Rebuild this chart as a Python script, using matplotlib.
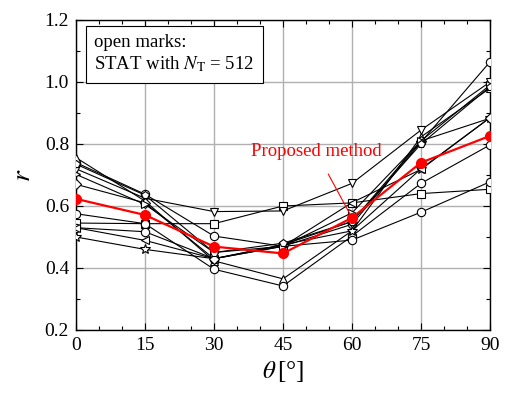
import matplotlib
matplotlib.use("Agg")
import matplotlib.pyplot as plt
from matplotlib.ticker import MultipleLocator

theta = [0, 15, 30, 45, 60, 75, 90]

stat_square   = [0.545, 0.543, 0.543, 0.600, 0.610, 0.640, 0.654]
stat_tridown  = [0.720, 0.625, 0.582, 0.584, 0.673, 0.845, 1.000]
stat_circle1  = [0.740, 0.638, 0.503, 0.470, 0.541, 0.806, 1.065]
stat_triup    = [0.756, 0.616, 0.423, 0.365, 0.520, 0.823, 0.980]
stat_circle2  = [0.575, 0.543, 0.396, 0.342, 0.503, 0.673, 0.797]
stat_circle3  = [0.530, 0.517, 0.430, 0.470, 0.490, 0.580, 0.678]
stat_star     = [0.500, 0.460, 0.430, 0.475, 0.520, 0.720, 0.885]
stat_trileft  = [0.530, 0.489, 0.430, 0.470, 0.611, 0.718, 0.885]
stat_diamond  = [0.670, 0.610, 0.430, 0.475, 0.550, 0.810, 0.883]
stat_triright = [0.702, 0.605, 0.450, 0.470, 0.578, 0.810, 0.990]
stat_pentagon = [0.735, 0.635, 0.450, 0.480, 0.550, 0.800, 0.985]
proposed      = [0.623, 0.571, 0.469, 0.447, 0.562, 0.740, 0.826]

series = [
    (stat_square, "s"), (stat_tridown, "v"), (stat_circle1, "o"),
    (stat_triup, "^"), (stat_circle2, "o"), (stat_circle3, "o"),
    (stat_star, "*"), (stat_trileft, "<"), (stat_diamond, "D"),
    (stat_triright, ">"), (stat_pentagon, "p"),
]

plt.rcParams['font.family'] = ['Liberation Serif', 'DejaVu Serif']
plt.rcParams['mathtext.fontset'] = 'stix'

fig = plt.figure(figsize=(5.08, 3.94), dpi=100)
ax = fig.add_axes([76/508, 1-330/394, 414/508, 310/394])

for vals, m in series:
    ms = 5.0 if m == "D" else (7.5 if m == "*" else 6.0)
    ax.plot(theta, vals, color="black", lw=0.8, marker=m, ms=ms,
            mfc="white", mec="black", mew=0.8, zorder=3)

ax.plot(theta, proposed, color="red", lw=1.6, marker="o", ms=7,
        mfc="red", mec="red", zorder=4)

ax.annotate("Proposed method", xy=(60, 0.562), xytext=(52.2, 0.775),
            color="red", fontsize=13.5, ha="center", va="center",
            arrowprops=dict(arrowstyle="-", color="red", lw=0.8,
                            shrinkA=9, shrinkB=3))

ax.text(4.0, 1.155, "open marks:\nSTAT with $N_\\mathrm{T}$ = 512",
        fontsize=13.5, ha="left", va="top", linespacing=1.25,
        bbox=dict(boxstyle="square,pad=0.45", fc="white", ec="black", lw=0.8),
        zorder=6)

ax.set_xlim(0, 90)
ax.set_ylim(0.2, 1.2)
ax.xaxis.set_major_locator(MultipleLocator(15))
ax.xaxis.set_minor_locator(MultipleLocator(5))
ax.yaxis.set_major_locator(MultipleLocator(0.2))
ax.yaxis.set_minor_locator(MultipleLocator(0.1))
ax.set_yticks([0.2, 0.4, 0.6, 0.8, 1.0, 1.2])
ax.set_yticklabels(["0.2", "0.4", "0.6", "0.8", "1.0", "1.2"])
ax.grid(True, which="major", color="#b0b0b0", lw=1.0, zorder=0)
ax.set_axisbelow(True)
ax.tick_params(which="both", direction="in", top=True, right=True,
               labelsize=14, width=0.8)
ax.tick_params(which="major", length=5, pad=5)
ax.tick_params(which="minor", length=3)
for s in ax.spines.values():
    s.set_linewidth(1.0)

ax.set_xlabel(r"$\theta\,$[°]", fontsize=18, labelpad=4)
ax.set_ylabel(r"$r$", fontsize=20, labelpad=6)

fig.savefig("out.png", dpi=100)
